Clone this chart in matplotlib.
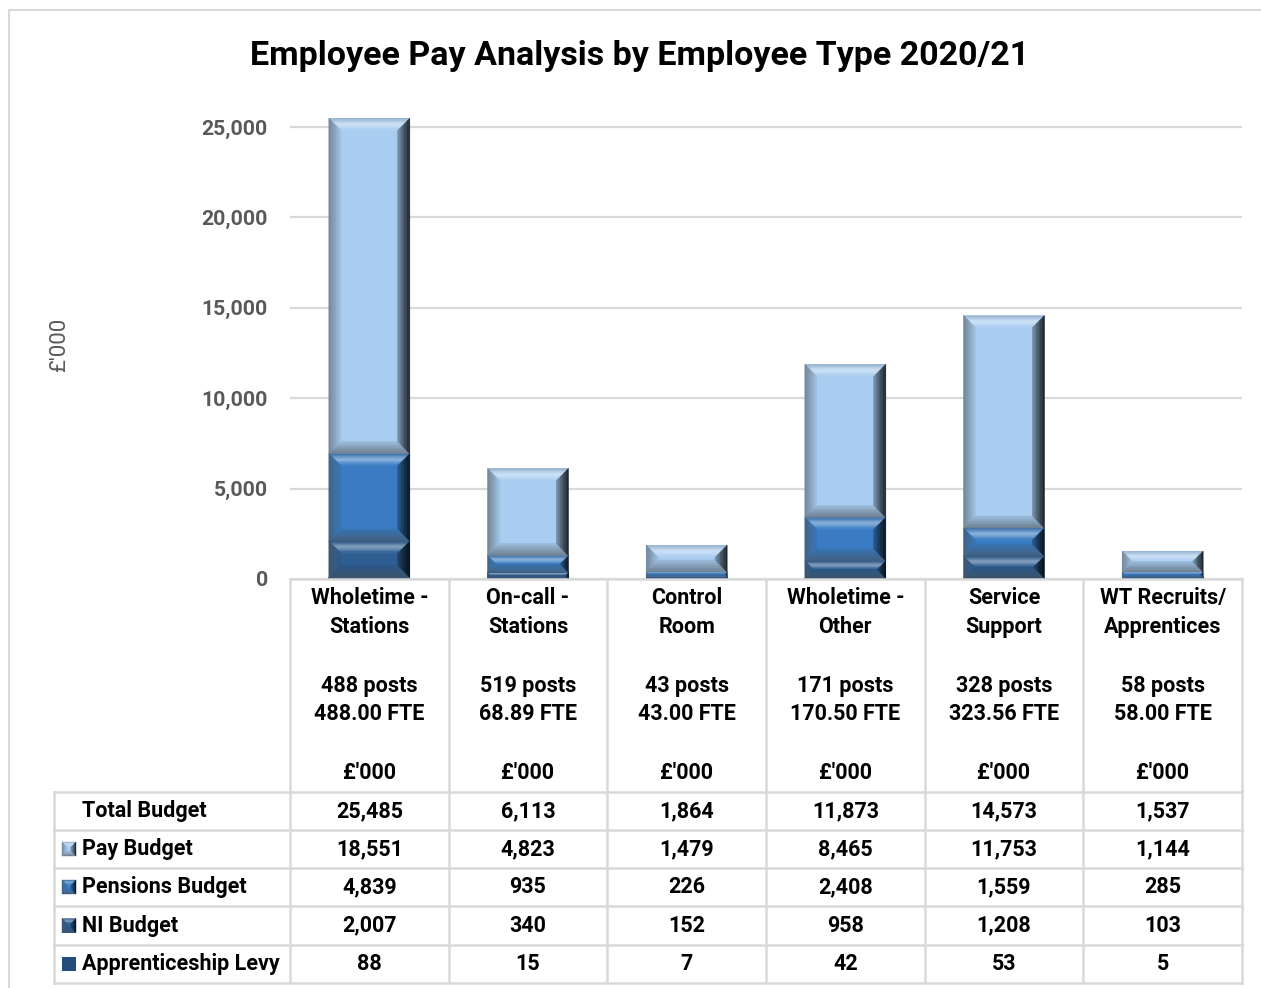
import matplotlib
matplotlib.use("Agg")
import matplotlib.pyplot as plt
from matplotlib.patches import Polygon, Rectangle
from matplotlib.lines import Line2D
from matplotlib.colors import to_rgb
import matplotlib.transforms as mtransforms
import numpy as np

# ---- data -------------------------------------------------------------
categories = [("Wholetime -", "Stations"), ("On-call -", "Stations"),
              ("Control", "Room"), ("Wholetime -", "Other"),
              ("Service", "Support"), ("WT Recruits/", "Apprentices")]
posts = [488, 519, 43, 171, 328, 58]
fte = ["488.00", "68.89", "43.00", "170.50", "323.56", "58.00"]

pay_budget = [18551, 4823, 1479, 8465, 11753, 1144]
pensions_budget = [4839, 935, 226, 2408, 1559, 285]
ni_budget = [2007, 340, 152, 958, 1208, 103]
apprenticeship_levy = [88, 15, 7, 42, 53, 5]

y_ticks = [0, 5000, 10000, 15000, 20000, 25000]

face_colors = {
    "Pay Budget": "#a9cdf0",
    "Pensions Budget": "#3a7cc3",
    "NI Budget": "#2d5d91",
    "Apprenticeship Levy": "#224d7b",
}

W, H = 1261, 988
fig = plt.figure(figsize=(W / 100, H / 100), dpi=100)
fig.patch.set_facecolor("white")
plt.rcParams["font.family"] = ["Roboto", "DejaVu Sans"]

def fy(py):
    return 1 - py / H

def fx(px):
    return px / W

# plot area
ax_left, ax_right, ax_bottom_px, ax_top_px = 290, 1242, 579, 109
ax = fig.add_axes([fx(ax_left), fy(ax_bottom_px), fx(ax_right) - fx(ax_left),
                   fy(ax_top_px) - fy(ax_bottom_px)])
ax.set_xlim(0, len(categories))
ax.set_ylim(0, 26000)
ax.set_facecolor("none")
for s in ax.spines.values():
    s.set_visible(False)
ax.set_xticks([])
ax.set_yticks(y_ticks)
ax.set_yticklabels([f"{v:,}" for v in y_ticks], fontsize=15.3, fontweight="bold",
                   color="#595959")
ax.tick_params(axis="y", length=0, pad=16)
ax.yaxis.grid(True, color="#d9d9d9", linewidth=1.6)
ax.set_axisbelow(True)

fig.text(fx(60), fy(345), "£'000", rotation=90, fontsize=16, color="#595959",
         ha="center", va="center")
fig.text(fx(640), fy(56), "Employee Pay Analysis by Employee Type 2020/21",
         fontsize=24.5, fontweight="bold", ha="center", va="center", color="black")

# ---- bevel shading ------------------------------------------------------
def mix(c, other, t):
    c = np.array(to_rgb(c))
    return tuple(c + (np.array(other) - c) * t)

def shade(c, k):
    return tuple(np.clip(np.array(to_rgb(c)) * k, 0, 1))

def side_gradients(face):
    white = (1, 1, 1)
    grey = (0.55, 0.6, 0.65)
    return {
        # (outer, middle, inner) colours, outer edge -> face
        "top": (shade(face, 0.85), mix(face, white, 0.45), to_rgb(face)),
        "left": (mix(shade(face, 0.6), grey, 0.3), mix(shade(face, 0.8), grey, 0.2),
                 shade(face, 0.95)),
        "right": (shade(face, 0.15), shade(face, 0.4), shade(face, 0.72)),
        "bottom": (mix(shade(face, 0.55), grey, 0.3), mix(shade(face, 0.75), grey, 0.2),
                   shade(face, 0.92)),
    }

def grad(stops, t):
    a, m, b = [np.array(s) for s in stops]
    if t < 0.5:
        return tuple(a + (m - a) * (t / 0.5))
    return tuple(m + (b - m) * ((t - 0.5) / 0.5))

inv = ax.transData.inverted()

def bevel(x0, y0, x1, y1, face, bpx=12, target=None, trans=None, nb=8):
    b = min(bpx, (y1 - y0) / 2, (x1 - x0) / 2)
    if b <= 0.2:
        return
    g = side_gradients(face)
    for j in range(nb):
        d0, d1 = b * j / nb, b * (j + 1) / nb
        t = (j + 0.5) / nb
        r0 = (x0 + d0, y0 + d0, x1 - d0, y1 - d0)
        r1 = (x0 + d1, y0 + d1, x1 - d1, y1 - d1)
        strips = {
            "top": [(r0[0], r0[3]), (r0[2], r0[3]), (r1[2], r1[3]), (r1[0], r1[3])],
            "bottom": [(r0[0], r0[1]), (r0[2], r0[1]), (r1[2], r1[1]), (r1[0], r1[1])],
            "left": [(r0[0], r0[1]), (r0[0], r0[3]), (r1[0], r1[3]), (r1[0], r1[1])],
            "right": [(r0[2], r0[1]), (r0[2], r0[3]), (r1[2], r1[3]), (r1[2], r1[1])],
        }
        for side in ("top", "bottom", "left", "right"):
            c = grad(g[side], t)
            pts = strips[side]
            if trans is None:
                ax.add_patch(Polygon(inv.transform(pts), closed=True, facecolor=c,
                                     edgecolor=c, lw=0.4, zorder=3))
            else:
                target.add_artist(Polygon(pts, closed=True, facecolor=c, edgecolor=c,
                                          lw=0.3, transform=trans, zorder=3))

# ---- stacked bars -------------------------------------------------------
x = np.arange(len(categories)) + 0.5
stack = [("Apprenticeship Levy", apprenticeship_levy), ("NI Budget", ni_budget),
         ("Pensions Budget", pensions_budget), ("Pay Budget", pay_budget)]

bottoms = np.zeros(len(categories))
for name, vals in stack:
    face = face_colors[name]
    bars = ax.bar(x, vals, width=0.51, bottom=bottoms, color=face,
                  edgecolor="none", zorder=2)
    for rect in bars:
        (x0, y0), (x1, y1) = ax.transData.transform(
            [(rect.get_x(), rect.get_y()),
             (rect.get_x() + rect.get_width(), rect.get_y() + rect.get_height())])
        bevel(x0, y0, x1, y1, face)
    bottoms += np.array(vals)

# ---- data table --------------------------------------------------------
line_c = "#d9d9d9"
lw = 1.8
col_edges = [ax_left + i * (ax_right - ax_left) / len(categories)
             for i in range(len(categories) + 1)]
row_edges = [792, 830, 868, 906, 945, 983]
table_left = 54

def hline(px0, px1, py):
    fig.add_artist(Line2D([fx(px0), fx(px1)], [fy(py), fy(py)], color=line_c, lw=lw))

def vline(px, py0, py1):
    fig.add_artist(Line2D([fx(px), fx(px)], [fy(py0), fy(py1)], color=line_c, lw=lw))

hline(ax_left, ax_right, 579)
for r in row_edges:
    hline(table_left, ax_right, r)
for c in col_edges:
    vline(c, 579, row_edges[-1])
vline(table_left, row_edges[0], row_edges[-1])

# chart border
fig.add_artist(Line2D([fx(9), fx(9), fx(1262)], [fy(990), fy(10), fy(10)],
                      color="#d9d9d9", lw=1.5))

tb = mtransforms.blended_transform_factory(ax.transData, fig.transFigure)
tsize = 15.5
for i, (l1, l2) in enumerate(categories):
    for py, s in [(598, l1), (627, l2), (686, f"{posts[i]} posts"),
                  (714, f"{fte[i]} FTE"), (773, "£'000")]:
        fig.text(x[i], fy(py), s, transform=tb, ha="center", va="center",
                 fontsize=tsize, fontweight="bold")

totals = [p + q + r + s for p, q, r, s in
          zip(pay_budget, pensions_budget, ni_budget, apprenticeship_levy)]
rows = [("Total Budget", totals), ("Pay Budget", pay_budget),
        ("Pensions Budget", pensions_budget), ("NI Budget", ni_budget),
        ("Apprenticeship Levy", apprenticeship_levy)]
for k, (label, vals) in enumerate(rows):
    cy = (row_edges[k] + row_edges[k + 1]) / 2
    fig.text(fx(82), fy(cy), label, ha="left", va="center", fontsize=tsize,
             fontweight="bold")
    for i, v in enumerate(vals):
        fig.text(x[i], fy(cy), f"{v:,}", transform=tb, ha="center", va="center",
                 fontsize=tsize, fontweight="bold")
    if label in face_colors:
        face = face_colors[label]
        mx0, mx1 = 62, 76
        my0, my1 = H - (cy + 7), H - (cy - 7)
        fig.add_artist(Rectangle((mx0, my0), mx1 - mx0, my1 - my0, facecolor=face,
                                 edgecolor="none", transform=None))
        if label != "Apprenticeship Levy":
            bevel(mx0, my0, mx1, my1, face, bpx=5, target=fig,
                  trans=mtransforms.IdentityTransform(), nb=4)

fig.savefig("out.png", dpi=100, facecolor="white")
